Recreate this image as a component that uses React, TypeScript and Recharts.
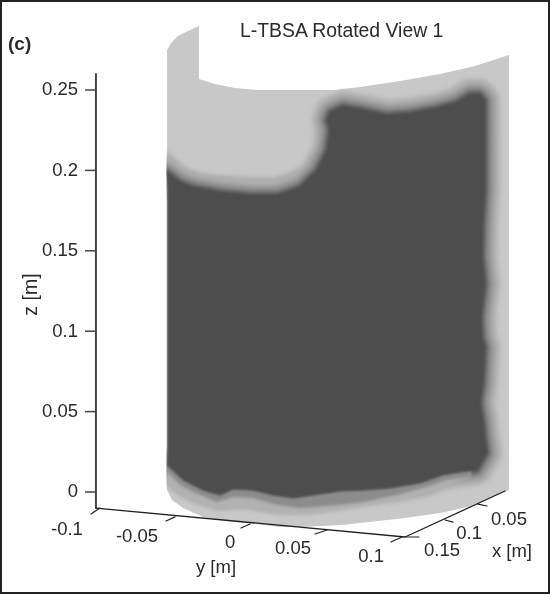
import { Scatter, ScatterChart, XAxis, YAxis } from "recharts"

// horizontal position is the screen projection of the 3D box, expressed in metres along y
const hDomain = [-0.13775, 0.20331]
const zDomain = [-0.0653, 0.30597]
const zTicks = [0, 0.05, 0.1, 0.15, 0.2, 0.25]

// unrolled cylinder wall
const wallH = [-0.0536, -0.0536, -0.051, -0.0464, -0.0397, -0.0325, -0.0325, -0.0219, -0.0086, 0.0066, 0.0278, 0.0576, 0.0742, 0.1007, 0.1272, 0.1503, 0.1728, 0.1728, 0.1457, 0.1272, 0.104, 0.0623, 0.0344, 0.0212, -0.0139, -0.0298, -0.043, -0.0503]
const wallZ = [0.0012, 0.2749, 0.2792, 0.2836, 0.2867, 0.2898, 0.2568, 0.2537, 0.2512, 0.25, 0.25, 0.25, 0.2519, 0.2556, 0.26, 0.2649, 0.2718, 0.0012, -0.0093, -0.0131, -0.0162, -0.0205, -0.0218, -0.0218, -0.018, -0.0155, -0.01, -0.005]

// dark burnt region
const coreH = [-0.0536, -0.045, -0.0364, -0.0185, 0.0013, 0.0192, 0.0344, 0.0457, 0.0523, 0.0543, 0.0523, 0.0543, 0.0629, 0.0742, 0.0921, 0.1073, 0.1252, 0.1384, 0.147, 0.1536, 0.157, 0.157, 0.1556, 0.155, 0.157, 0.1543, 0.155, 0.157, 0.1556, 0.1536, 0.1556, 0.157, 0.1583, 0.1517, 0.1404, 0.1291, 0.1139, 0.094, 0.0762, 0.0609, 0.0298, 0.0166, 0.0033, -0.0099, -0.0185, -0.0298, -0.043, -0.0536]
const coreZ = [0.199, 0.1928, 0.1897, 0.1866, 0.1847, 0.1847, 0.1897, 0.2002, 0.2127, 0.2251, 0.2313, 0.2363, 0.24, 0.2382, 0.2345, 0.2357, 0.2388, 0.2425, 0.2475, 0.2475, 0.2438, 0.1878, 0.1673, 0.1461, 0.13, 0.1088, 0.0964, 0.0902, 0.0678, 0.0553, 0.0448, 0.0323, 0.0243, 0.0137, 0.0124, 0.0106, 0.0056, 0.0025, 0.0012, 0.0006, -0.0037, -0.0019, 0.0012, 0.0019, -0.0019, 0.0012, 0.0075, 0.0168]

// wider contour bands along the bottom and the upper left
const outerBandH = [-0.0536, -0.0536, -0.045, -0.0364, -0.0205, -0.0007, 0.0192, 0.0411, 0.0609, 0.0762, 0.0987, 0.1159, 0.1318, 0.147, 0.147]
const outerBandZ = [0.0199, 0.0044, -0.0019, -0.0062, -0.0112, -0.0112, -0.0143, -0.0143, -0.0118, -0.0093, -0.005, -0.0019, 0.0044, 0.0087, 0.0199]
const innerBandH = [-0.0536, -0.0536, -0.045, -0.0364, -0.0205, -0.0099, 0.0033, 0.0192, 0.0344, 0.0609, 0.0762, 0.0987, 0.1159, 0.1318, 0.147, 0.147]
const innerBandZ = [0.0199, 0.0124, 0.0044, 0, -0.0062, -0.0031, -0.0037, -0.0081, -0.01, -0.0081, -0.0062, -0.0019, 0.0025, 0.0075, 0.0093, 0.0199]
const topBandH = [-0.0536, -0.045, -0.0298, 0.0013, 0.0179, 0.0344, 0.0344, -0.0536]
const topBandZ = [0.2127, 0.2021, 0.1971, 0.1953, 0.1953, 0.2002, 0.1816, 0.1816]

// blank strip left of the wall, trims the contour halos
const trimH = [-0.0848, -0.054, -0.054, -0.0848]
const trimZ = [0.2239, 0.2239, -0.005, -0.005]

const zAxisH = [-0.1007, -0.1007]
const zAxisZ = [0.26, -0.01]
const floorH = [-0.1007, 0.104, 0.1702]
const floorZ = [-0.01, -0.028, 0.0006]

const stubFromH = [-0.098, -0.0483, 0.0013, 0.0523, 0.102, 0.104, 0.1305, 0.1523]
const stubFromZ = [-0.01, -0.0155, -0.0199, -0.0236, -0.028, -0.028, -0.0174, -0.0075]
const stubToH = [-0.104, -0.0543, -0.0046, 0.0444, 0.0947, 0.1132, 0.1358, 0.1583]
const stubToZ = [-0.0137, -0.018, -0.0224, -0.0261, -0.0311, -0.028, -0.0187, -0.0087]

const labelText = ["-0.1", "-0.05", "0", "0.05", "0.1", "y [m]", "0.15", "0.1", "0.05", "x [m]"]
const labelH = [-0.1199, -0.0735, -0.0119, 0.0298, 0.0815, -0.0212, 0.1285, 0.1464, 0.1728, 0.1748]
const labelZ = [-0.0267, -0.0311, -0.0348, -0.0386, -0.0435, -0.0504, -0.0398, -0.0292, -0.0205, -0.0404]

const halos = [
  { stroke: "#b0b0b0", width: 30, blur: 2 },
  { stroke: "#8a8a8a", width: 17, blur: 2.5 },
  { stroke: "#666666", width: 7, blur: 1.5 },
]

const font = "'Liberation Sans', Arial, sans-serif"
const textColor = "#2a2a2a"

const toPoints = (hs: number[], zs: number[]) => hs.map((h, i) => ({ h, z: zs[i] }))
const labelPoints = labelText.map((text, i) => ({ h: labelH[i], z: labelZ[i], text }))

const NoMark = () => <g />

function AxisLabel(props: any) {
  return (
    <text x={props.cx} y={props.cy} textAnchor="middle" fontSize={18.5} fontFamily={font} fill={textColor}>
      {props.payload?.text}
    </text>
  )
}

function ZTick({ y, payload }: any) {
  return (
    <g>
      <line x1={85} x2={96} y1={y} y2={y} stroke="#444" strokeWidth={1.5} />
      <text x={78} y={y + 5.5} textAnchor="end" fontSize={18.5} fontFamily={font} fill={textColor}>
        {payload.value}
      </text>
    </g>
  )
}

function polygon(key: string, hs: number[], zs: number[], line: Record<string, unknown>) {
  return (
    <Scatter
      key={key}
      data={toPoints(hs, zs)}
      shape={NoMark}
      line={{ strokeLinejoin: "round", strokeLinecap: "round", ...line }}
      isAnimationActive={false}
    />
  )
}

export default function App() {
  return (
    <div style={{ position: "absolute", left: 0, top: 0, width: 555, height: 597, background: "#fff", overflow: "hidden" }}>
      <div style={{ filter: "blur(0.45px)" }}>
        <ScatterChart width={555} height={597} margin={{ top: 0, right: 0, bottom: 0, left: 0 }}>
          <XAxis type="number" dataKey="h" domain={hDomain} hide />
          <YAxis
            type="number"
            dataKey="z"
            domain={zDomain}
            ticks={zTicks}
            interval={0}
            width={40}
            axisLine={false}
            tickLine={false}
            tick={ZTick}
            label={{ value: "z [m]", angle: -90, position: "center", dx: 10, dy: -4, fontSize: 19.5, fontFamily: font, fill: textColor }}
          />
          {polygon("wall", wallH, wallZ, { fill: "#c8c8c8", stroke: "none" })}
          {polygon("topBand", topBandH, topBandZ, { fill: "#a8a8a8", stroke: "none", style: { filter: "blur(2px)" } })}
          {halos.map((ring) =>
            polygon(ring.stroke, coreH, coreZ, { fill: "none", stroke: ring.stroke, strokeWidth: ring.width, style: { filter: `blur(${ring.blur}px)` } })
          )}
          {polygon("outerBand", outerBandH, outerBandZ, { fill: "#b2b2b2", stroke: "none", style: { filter: "blur(1.5px)" } })}
          {polygon("innerBand", innerBandH, innerBandZ, { fill: "#8c8c8c", stroke: "none", style: { filter: "blur(1.5px)" } })}
          {polygon("core", coreH, coreZ, { fill: "#4d4d4d", stroke: "#4d4d4d", strokeWidth: 1, style: { filter: "blur(1px)" } })}
          {polygon("trim", trimH, trimZ, { fill: "#fff", stroke: "none" })}
          {polygon("zAxis", zAxisH, zAxisZ, { fill: "none", stroke: "#444", strokeWidth: 2 })}
          {polygon("floor", floorH, floorZ, { fill: "none", stroke: "#222", strokeWidth: 1.3 })}
          {stubFromH.map((h, i) =>
            polygon(`stub${i}`, [h, stubToH[i]], [stubFromZ[i], stubToZ[i]], { fill: "none", stroke: "#222", strokeWidth: 1.2 })
          )}
          <Scatter data={labelPoints} shape={AxisLabel} isAnimationActive={false} />
        </ScatterChart>
        <div style={{ position: "absolute", left: 240, top: 18, fontFamily: font, fontSize: 19.4, lineHeight: "24px", color: textColor, whiteSpace: "nowrap" }}>
          L-TBSA Rotated View 1
        </div>
        <div style={{ position: "absolute", left: 8, top: 33, fontFamily: font, fontSize: 19, fontWeight: "bold", lineHeight: "22px", color: textColor }}>
          (c)
        </div>
        <div style={{ position: "absolute", left: 0, top: 0, width: 550, height: 594, boxSizing: "border-box", border: "2px solid #222" }} />
      </div>
    </div>
  )
}
